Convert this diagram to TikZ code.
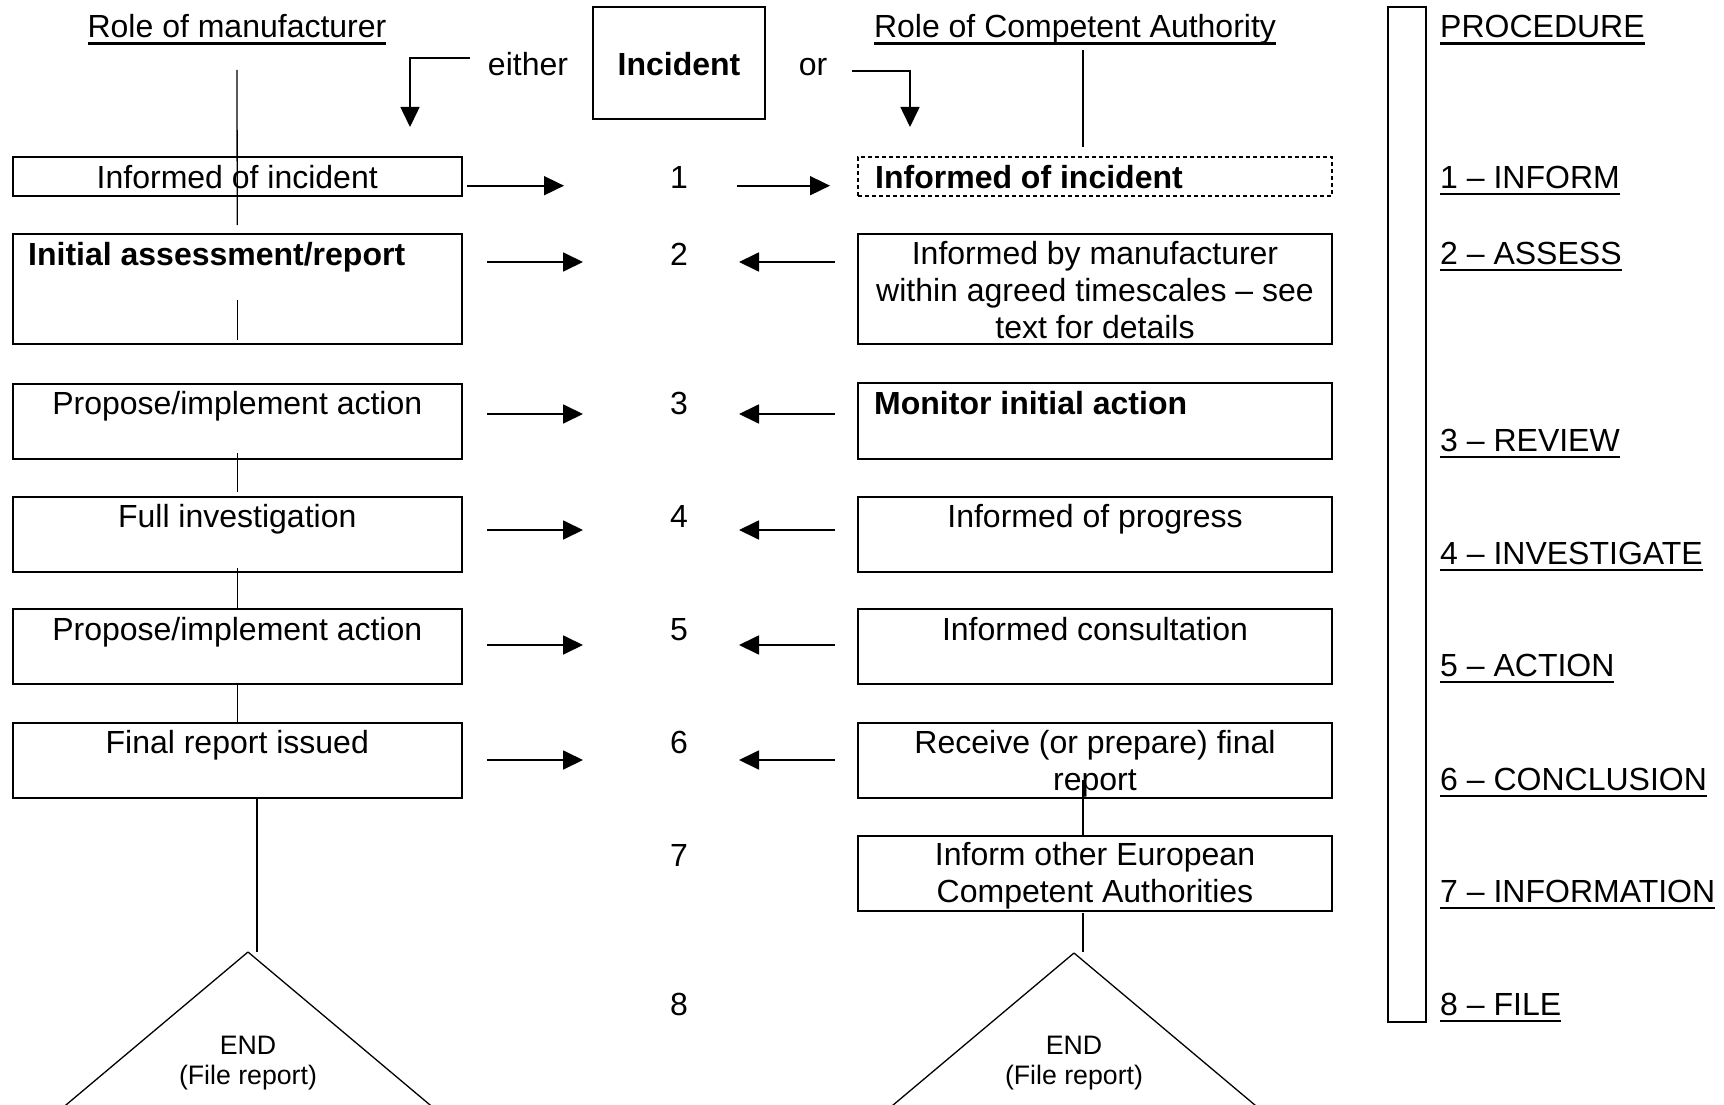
\documentclass[tikz,border=0pt]{standalone}
\usepackage{fontspec}
\setmainfont{Liberation Sans}
\newfontfamily\finfont{Liberation Sans}
\usetikzlibrary{arrows.meta}
\newcommand{\mainsz}{\fontsize{32pt}{36.8pt}\selectfont}
\newcommand{\finsz}{\finfont\fontsize{26.7pt}{30.5pt}\selectfont}
\newcommand{\undl}[1]{\leavevmode\setbox0=\hbox{#1}\rlap{\rule[-6.8pt]{\wd0}{2.3pt}}\box0}
\begin{document}
\begin{tikzpicture}[x=1pt,y=-1pt,
  box/.style={draw, line width=2pt, minimum width=449.5pt, inner sep=0},
  cbox/.style={draw, line width=2pt, minimum width=474pt, inner sep=0},
  dashbox/.style={cbox, dash pattern=on 4pt off 3pt},
  txt/.style={inner sep=0, font=\mainsz, anchor=base},
  btxt/.style={inner sep=0, font=\mainsz\bfseries, anchor=base west},
  ltxt/.style={inner sep=0, font=\mainsz, anchor=base west},
  conn/.style={line width=1.3pt},
  arr/.style={line width=1.8pt, -{Triangle[length=20pt,width=19pt]}},
  fintxt/.style={inner sep=0, font=\finsz, anchor=base}]

\useasboundingbox (0,0) rectangle (1724,1105);
\clip (0,0) rectangle (1724,1105);

% headings
\node[txt] (roleM) at (237,38) {\undl{Role of manufacturer}};
\node[txt] (roleC) at (1075,38) {\undl{Role of Competent Authority}};
\node[ltxt] (proc) at (1440,38) {\undl{PROCEDURE}};

% incident
\node[draw, line width=2pt, minimum width=172pt, minimum height=112pt, inner sep=0] (inc) at (679,63) {};
\node[txt, font=\mainsz\bfseries] (inct) at (679,75.5) {Incident};
\node[txt] (either) at (528,75.5) {either};
\node[txt] (or) at (813,75.5) {or};
\coordinate (eA) at (470,58);
\coordinate (eB) at (410,58);
\coordinate (eC) at (410,127);
\coordinate (oA) at (852,71);
\coordinate (oB) at (910,71);
\coordinate (oC) at (910,127);
\draw[arr, line width=1.6pt] (eA) -- (eB) -- (eC);
\draw[arr, line width=1.6pt] (oA) -- (oB) -- (oC);

% manufacturer column
\node[box, minimum height=39pt] (m1) at (237.25,176.5) {};
\node[box, minimum height=110pt] (m2) at (237.25,289) {};
\node[box, minimum height=75pt] (m3) at (237.25,421.5) {};
\node[box, minimum height=75pt] (m4) at (237.25,534.5) {};
\node[box, minimum height=75pt] (m5) at (237.25,646.5) {};
\node[box, minimum height=75pt] (m6) at (237.25,760.5) {};
\node[txt] (m1t) at (237.25,188) {Informed of incident};
\node[btxt] (m2t) at (28,265.5) {Initial assessment/report};
\node[txt] (m3t) at (237.25,414) {Propose/implement action};
\node[txt] (m4t) at (237.25,527) {Full investigation};
\node[txt] (m5t) at (237.25,640) {Propose/implement action};
\node[txt] (m6t) at (237.25,753) {Final report issued};

% authority column
\node[dashbox, minimum height=39pt] (c1) at (1095,176.5) {};
\node[cbox, minimum height=110pt] (c2) at (1095,289) {};
\node[cbox, minimum height=76pt] (c3) at (1095,421) {};
\node[cbox, minimum height=75pt] (c4) at (1095,534.5) {};
\node[cbox, minimum height=75pt] (c5) at (1095,646.5) {};
\node[cbox, minimum height=75pt] (c6) at (1095,760.5) {};
\node[cbox, minimum height=75pt] (c7) at (1095,873.5) {};
\node[btxt] (c1t) at (875,188) {Informed of incident};
\node[txt] (c2t) at (1095,264.5) {\begin{tabular}[t]{@{}c@{}}Informed by manufacturer\\within agreed timescales -- see\\text for details\end{tabular}};
\node[btxt] (c3t) at (874,414) {Monitor initial action};
\node[txt] (c4t) at (1095,527) {Informed of progress};
\node[txt] (c5t) at (1095,640) {Informed consultation};
\node[txt] (c6t) at (1095,753.5) {\begin{tabular}[t]{@{}c@{}}Receive (or prepare) final\\report\end{tabular}};
\node[txt] (c7t) at (1095,865.5) {\begin{tabular}[t]{@{}c@{}}Inform other European\\Competent Authorities\end{tabular}};

% step numbers
\node[txt] (n1) at (679,188) {1};
\node[txt] (n2) at (679,265) {2};
\node[txt] (n3) at (679,414) {3};
\node[txt] (n4) at (679,527) {4};
\node[txt] (n5) at (679,640) {5};
\node[txt] (n6) at (679,753) {6};
\node[txt] (n7) at (679,866) {7};
\node[txt] (n8) at (679,1015) {8};

% procedure bar
\node[draw, line width=2pt, minimum width=38pt, minimum height=1015pt, inner sep=0] (bar) at (1407,514.5) {};
\node[ltxt] (p1) at (1440,188.5) {\undl{1 -- INFORM}};
\node[ltxt] (p2) at (1440,264.5) {\undl{2 -- ASSESS}};
\node[ltxt] (p3) at (1440,451) {\undl{3 -- REVIEW}};
\node[ltxt] (p4) at (1440,564.5) {\undl{4 -- INVESTIGATE}};
\node[ltxt] (p5) at (1440,676.5) {\undl{5 -- ACTION}};
\node[ltxt] (p6) at (1440,790) {\undl{6 -- CONCLUSION}};
\node[ltxt] (p7) at (1440,902) {\undl{7 -- INFORMATION}};
\node[ltxt] (p8) at (1440,1015) {\undl{8 -- FILE}};

% horizontal arrows
\coordinate (la1) at (467,185.7); \coordinate (lb1) at (564,185.7);
\coordinate (ra1) at (737,185.7); \coordinate (rb1) at (830,185.7);
\draw[arr] (la1) -- (lb1);
\draw[arr] (ra1) -- (rb1);
\foreach \i/\y in {2/262,3/414,4/530,5/645,6/760}{
  \coordinate (la\i) at (487,\y); \coordinate (lb\i) at (583,\y);
  \coordinate (ra\i) at (835,\y); \coordinate (rb\i) at (739,\y);
  \draw[arr] (la\i) -- (lb\i);
  \draw[arr] (ra\i) -- (rb\i);
}

% vertical connectors, manufacturer side
\coordinate (endL) at (248,952);
\draw[conn] (roleM.base |- 0,70) -- (m2.north |- 0,225);
\draw[conn] (m2.center |- 0,300) -- (m2.center |- 0,340);
\draw[conn] (m3.south |- 0,453) -- (m4.north |- 0,492);
\draw[conn] (m4.south |- 0,568) -- (m5.north |- 0,608);
\draw[conn] (m5.south |- 0,683) -- (m6.north);
\draw[conn] (m6.south -| 257,0) -- (endL -| 257,0);

% vertical connectors, authority side
\coordinate (endR) at (1074,953);
\draw[conn] (1083,50) -- (1083,147);
\draw[conn] (1083,780) -- (c7.north -| 1083,0);
\draw[conn] (1083,913) -- (1083,952);

% end triangles
\draw[conn] (endL) -- ++(-238,200);
\draw[conn] (endL) -- ++(238,200);
\draw[conn] (endR) -- ++(-238,200);
\draw[conn] (endR) -- ++(238,200);
\node[fintxt] (finLt) at (248,1054) {\begin{tabular}[t]{@{}c@{}}END\\(File report)\end{tabular}};
\node[fintxt] (finRt) at (1074,1054) {\begin{tabular}[t]{@{}c@{}}END\\(File report)\end{tabular}};
\end{tikzpicture}
\end{document}
